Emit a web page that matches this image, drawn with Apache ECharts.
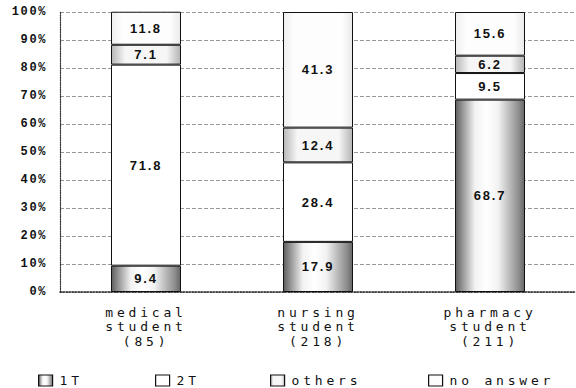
<!DOCTYPE html>
<html>
<head>
<meta charset="utf-8">
<script src="https://cdn.jsdelivr.net/npm/echarts@6/dist/echarts.min.js"></script>
<style>
html,body{margin:0;padding:0;background:#fff;}
#chart{width:576px;height:388px;}
#chart text[style*="Liberation Mono"]{letter-spacing:1.6px;}
#chart text[style*="DejaVu Sans Mono"]{letter-spacing:3.8px;}
#chart text[style*="Liberation Sans"]{letter-spacing:1.8px;}
</style>
</head>
<body>
<div id="chart"></div>
<script>
var categories = ['medical\nstudent\n(85)', 'nursing\nstudent\n(218)', 'pharmacy\nstudent\n(211)'];
var seriesNames = ['1T', '2T', 'others', 'no answer'];
var v1T = [9.4, 17.9, 68.7];
var v2T = [71.8, 28.4, 9.5];
var vOthers = [7.1, 12.4, 6.2];
var vNoAnswer = [11.8, 41.3, 15.6];
var yTicks = [0, 10, 20, 30, 40, 50, 60, 70, 80, 90, 100];

var G = echarts.graphic.LinearGradient;
var fills = [
  new G(0, 0, 1, 0, [{offset: 0, color: '#5e5e5e'}, {offset: 0.08, color: '#8a8a8a'}, {offset: 0.28, color: '#f2f2f2'}, {offset: 0.45, color: '#ffffff'}, {offset: 0.62, color: '#f2f2f2'}, {offset: 0.92, color: '#8c8c8c'}, {offset: 1, color: '#666666'}]),
  '#ffffff',
  new G(0, 0, 1, 0, [{offset: 0, color: '#b8b8b8'}, {offset: 0.2, color: '#f6f6f6'}, {offset: 0.8, color: '#f6f6f6'}, {offset: 1, color: '#b4b4b4'}]),
  new G(0, 0, 1, 0, [{offset: 0, color: '#eeeeee'}, {offset: 0.15, color: '#fdfdfd'}, {offset: 0.85, color: '#fdfdfd'}, {offset: 1, color: '#eaeaea'}])
];
var values = [v1T, v2T, vOthers, vNoAnswer];
var legendLeft = [33, 150, 265, 423];

var series = seriesNames.map(function (name, i) {
  return {
    name: name,
    type: 'bar',
    stack: 'total',
    barWidth: 70,
    data: values[i],
    itemStyle: {color: fills[i], borderColor: '#111', borderWidth: 1},
    label: {
      show: true,
      position: 'inside',
      color: '#111',
      fontFamily: 'Liberation Sans',
      fontWeight: 'bold',
      fontSize: 13,
      formatter: function (p) { return p.value.toFixed(1); }
    }
  };
});

var legends = seriesNames.map(function (name, i) {
  return {
    data: [name],
    left: legendLeft[i],
    top: 369,
    icon: 'rect',
    itemWidth: 14,
    itemHeight: 11,
    itemGap: 8,
    itemStyle: {borderColor: '#111', borderWidth: 1.2},
    textStyle: {fontFamily: 'DejaVu Sans Mono', fontSize: 13, color: '#111', padding: [0, 0, 0, 2]},
    selectedMode: false
  };
});

var chart = echarts.init(document.getElementById('chart'), null, {renderer: 'svg'});
chart.setOption({
  animation: false,
  backgroundColor: '#fff',
  grid: {left: 60, right: 0, top: 12, bottom: 96},
  legend: legends,
  xAxis: {
    type: 'category',
    data: categories,
    axisTick: {show: false},
    axisLine: {lineStyle: {color: '#222', type: 'dotted', width: 1.5}},
    axisLabel: {
      fontFamily: 'DejaVu Sans Mono',
      fontSize: 13,
      color: '#111',
      lineHeight: 14.5,
      margin: 13
    }
  },
  yAxis: {
    type: 'value',
    min: 0,
    max: 100,
    interval: 10,
    axisLine: {show: true, lineStyle: {color: '#333', type: 'dotted', width: 1.2}},
    axisTick: {show: false},
    splitLine: {lineStyle: {color: '#999', type: 'dashed', width: 1}},
    axisLabel: {
      fontFamily: 'Liberation Mono',
      fontWeight: 'bold',
      fontSize: 12,
      color: '#111',
      margin: 13,
      formatter: function (v) { return yTicks.indexOf(v) >= 0 ? v + '%' : ''; }
    }
  },
  series: series
});
</script>
</body>
</html>
